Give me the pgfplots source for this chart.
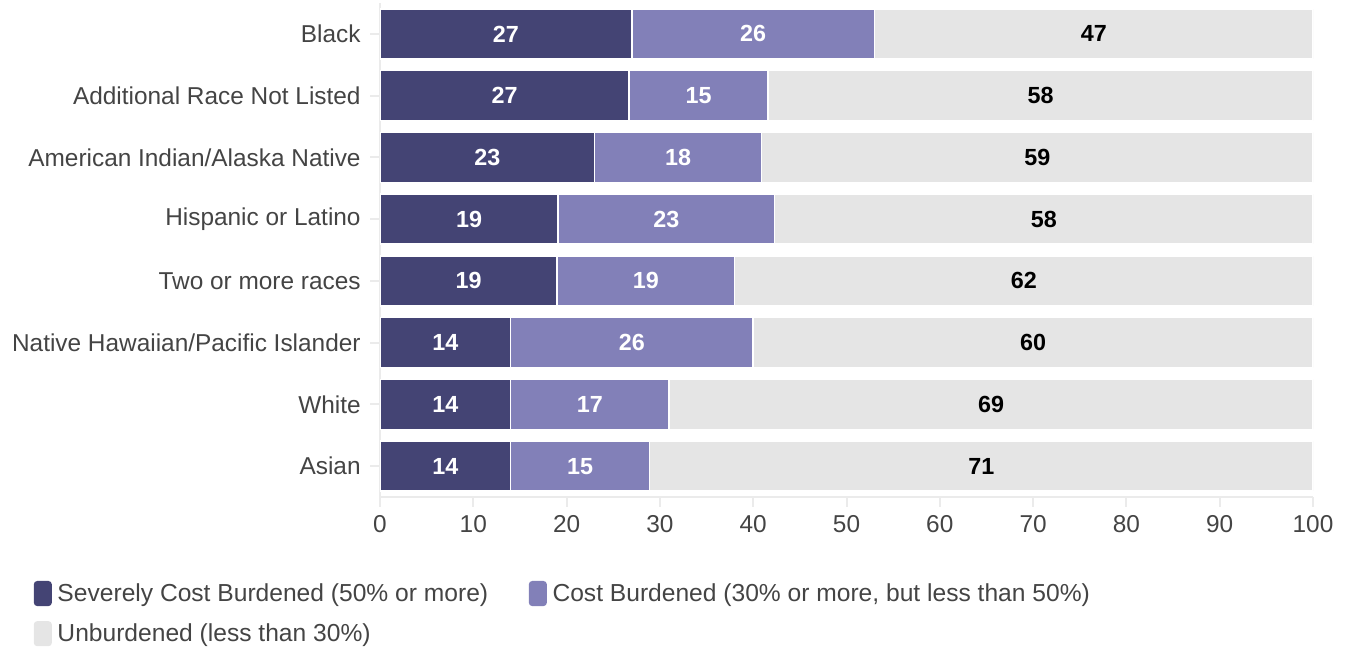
\documentclass[border=0pt]{standalone}
\usepackage{pgfplots}
\pgfplotsset{compat=1.18}
\usepackage{pgfplotstable}
\usepackage{fontspec}
\setmainfont{Liberation Sans}
\definecolor{sevc}{HTML}{444474}
\definecolor{costc}{HTML}{8280B8}
\definecolor{unbc}{HTML}{E5E5E5}
\definecolor{axgray}{HTML}{EBEBEB}
\definecolor{txt}{HTML}{444444}
\pgfplotstableread{
y sev cost unb sl cl ul
7 27.0 26.0 47.0 27 26 47
6 26.7 14.9 58.4 27 15 58
5 23.0 17.9 59.1 23 18 59
4 19.1 23.2 57.7 19 23 58
3 19.0 19.0 62.0 19 19 62
2 14.0 26.0 60.0 14 26 60
1 14.0 17.0 69.0 14 17 69
0 14.0 14.9 71.1 14 15 71
}\data
\pgfplotstablecreatecol[create col/expr={\thisrow{sev}/2}]{sc}{\data}
\pgfplotstablecreatecol[create col/expr={\thisrow{sev}+\thisrow{cost}/2}]{cc}{\data}
\pgfplotstablecreatecol[create col/expr={\thisrow{sev}+\thisrow{cost}+\thisrow{unb}/2}]{uc}{\data}
\pgfplotsset{
  geom/.style={at={(285pt,111.75pt)}, anchor=south west,
    scale only axis, width=699.75pt, height=370.5pt,
    xmin=0, xmax=100, ymin=-0.5, ymax=7.5},
}
\begin{document}
\begin{tikzpicture}
\useasboundingbox (0pt,0pt) rectangle (1008.75pt,484.5pt);
\begin{axis}[
  geom,
  xbar stacked, bar width=37.5pt,
  ytick={0,...,7},
  yticklabels={Asian,White,Native Hawaiian/Pacific Islander,Two or more races,Hispanic or Latino,American Indian/Alaska Native,Additional Race Not Listed,Black},
  xtick={0,10,...,100},
  axis lines*=left,
  axis line style={axgray, line width=2pt},
  tick style={axgray, line width=1.5pt},
  major tick length=7.5pt,
  tick align=outside,
  /pgf/number format/assume math mode=true,
  tick label style={font=\fontsize{18.3}{22}\selectfont, text=txt},
  yticklabel style={xshift=-3.5pt},
  xticklabel style={yshift=-3pt},
  legend style={at={(-0.3756,-0.164)}, anchor=north west, draw=none, fill=none,
    font=\fontsize{18.45}{22}\selectfont, text=txt, legend columns=2,
    /tikz/every even column/.append style={column sep=28.5pt}, row sep=11.25pt},
  legend cell align=left,
  legend image code/.code={\path[#1, draw=none, rounded corners=2.5pt] (0pt,-9.4pt) rectangle (13.5pt,9.4pt);
    \path[draw=none, fill=none] (0pt,0pt) -- (15.75pt,0pt);},
]
\addplot[fill=sevc, draw=white, line width=1.2pt] table[x=sev, y=y] {\data};
\addplot[fill=costc, draw=white, line width=1.2pt] table[x=cost, y=y] {\data};
\addplot[fill=unbc, draw=white, line width=1.2pt] table[x=unb, y=y] {\data};
\legend{Severely Cost Burdened (50\% or more), {Cost Burdened (30\% or more, but less than 50\%)}, Unburdened (less than 30\%)}
\end{axis}
\begin{axis}[geom, hide axis,
  nodes near coords style={font=\fontsize{17.5}{21}\selectfont\bfseries, anchor=center}]
\addplot[only marks, mark=none, point meta=explicit symbolic, nodes near coords,
  every node near coord/.append style={text=white}] table[x=sc, y=y, meta=sl] {\data};
\addplot[only marks, mark=none, point meta=explicit symbolic, nodes near coords,
  every node near coord/.append style={text=white}] table[x=cc, y=y, meta=cl] {\data};
\addplot[only marks, mark=none, point meta=explicit symbolic, nodes near coords,
  every node near coord/.append style={text=black}] table[x=uc, y=y, meta=ul] {\data};
\end{axis}
\end{tikzpicture}
\end{document}
